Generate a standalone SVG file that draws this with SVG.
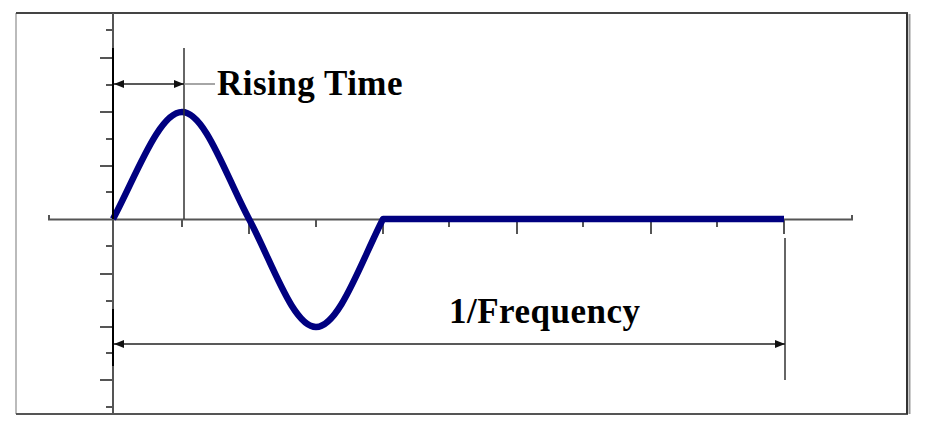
<svg xmlns="http://www.w3.org/2000/svg" width="925" height="428" viewBox="0 0 925 428">
<defs>
<marker id="ah" viewBox="0 0 10 8" refX="10" refY="4" markerWidth="10" markerHeight="8" markerUnits="userSpaceOnUse" orient="auto-start-reverse">
<path d="M0,0 L10,4 L0,8 Z" fill="#111"/>
</marker>
</defs>
<style>
.axis{stroke:#555;stroke-width:2;fill:none}
.tick{stroke:#555;stroke-width:2}
.dim{stroke:#222;stroke-width:1.5;fill:none}
.lbl{font-family:"Liberation Serif","Times New Roman",serif;font-weight:bold;font-size:35px;letter-spacing:0.5px;fill:#000}
.wave{stroke:#000080;stroke-width:6.5;fill:none;stroke-linejoin:round}
</style>
<rect x="0" y="0" width="925" height="428" fill="#fff"/>
<g id="frame">
<line x1="16" y1="13" x2="16" y2="414" stroke="#bbb" stroke-width="2"/>
<line x1="16" y1="13" x2="908" y2="13" stroke="#444" stroke-width="2"/>
<line x1="16" y1="414" x2="908" y2="414" stroke="#555" stroke-width="2"/>
<line x1="907" y1="13" x2="907" y2="414" stroke="#333" stroke-width="2"/>
<line x1="909.5" y1="14" x2="909.5" y2="414" stroke="#999" stroke-width="2"/>
</g>
<g id="axes">
<line class="axis" x1="113" y1="13" x2="113" y2="414"/>
<path class="axis" d="M49,215 L49,219.5 L852,219.5 L852,215"/>
<g class="tick">
<line x1="106" y1="30" x2="113" y2="30"/>
<line x1="100" y1="58" x2="113" y2="58"/>
<line x1="106" y1="85" x2="113" y2="85"/>
<line x1="100" y1="112" x2="113" y2="112"/>
<line x1="106" y1="139" x2="113" y2="139"/>
<line x1="100" y1="166" x2="113" y2="166"/>
<line x1="106" y1="192" x2="113" y2="192"/>
<line x1="106" y1="246" x2="113" y2="246"/>
<line x1="100" y1="274" x2="113" y2="274"/>
<line x1="106" y1="301" x2="113" y2="301"/>
<line x1="100" y1="327" x2="113" y2="327"/>
<line x1="106" y1="353" x2="113" y2="353"/>
<line x1="100" y1="380" x2="113" y2="380"/>
<line x1="106" y1="407" x2="113" y2="407"/>
<line x1="182" y1="219" x2="182" y2="227"/>
<line x1="249" y1="219" x2="249" y2="234"/>
<line x1="316" y1="219" x2="316" y2="227"/>
<line x1="383" y1="219" x2="383" y2="234"/>
<line x1="449" y1="219" x2="449" y2="227"/>
<line x1="517" y1="219" x2="517" y2="234"/>
<line x1="583" y1="219" x2="583" y2="227"/>
<line x1="651" y1="219" x2="651" y2="234"/>
<line x1="717" y1="219" x2="717" y2="227"/>
<line x1="784" y1="219" x2="784" y2="234"/>
</g>
</g>
<g id="waveform">
<path class="wave" d="M113,219 C136,176 159,112 182,112 C205,112 226,176 249,219 C272,262 293,327 316,327 C339,327 361,262 383,219 L784,219"/>
</g>
<g id="connectors">
<line x1="113" y1="48" x2="113" y2="219" stroke="#000" stroke-width="2"/>
<line x1="184" y1="48" x2="184" y2="219" stroke="#333" stroke-width="1.5"/>
<line class="dim" x1="114" y1="84" x2="184" y2="84" marker-start="url(#ah)" marker-end="url(#ah)"/>
<line x1="184" y1="84" x2="215" y2="84" stroke="#888" stroke-width="1.5"/>
<line x1="113" y1="309" x2="113" y2="366" stroke="#000" stroke-width="2"/>
<line x1="785" y1="238" x2="785" y2="380" stroke="#333" stroke-width="1.5"/>
<line class="dim" x1="114" y1="344" x2="785" y2="344" marker-start="url(#ah)" marker-end="url(#ah)"/>
</g>
<g id="label-rising">
<text class="lbl" x="217" y="95">Rising Time</text>
</g>
<g id="label-frequency">
<text class="lbl" x="449" y="323">1/Frequency</text>
</g>
</svg>
